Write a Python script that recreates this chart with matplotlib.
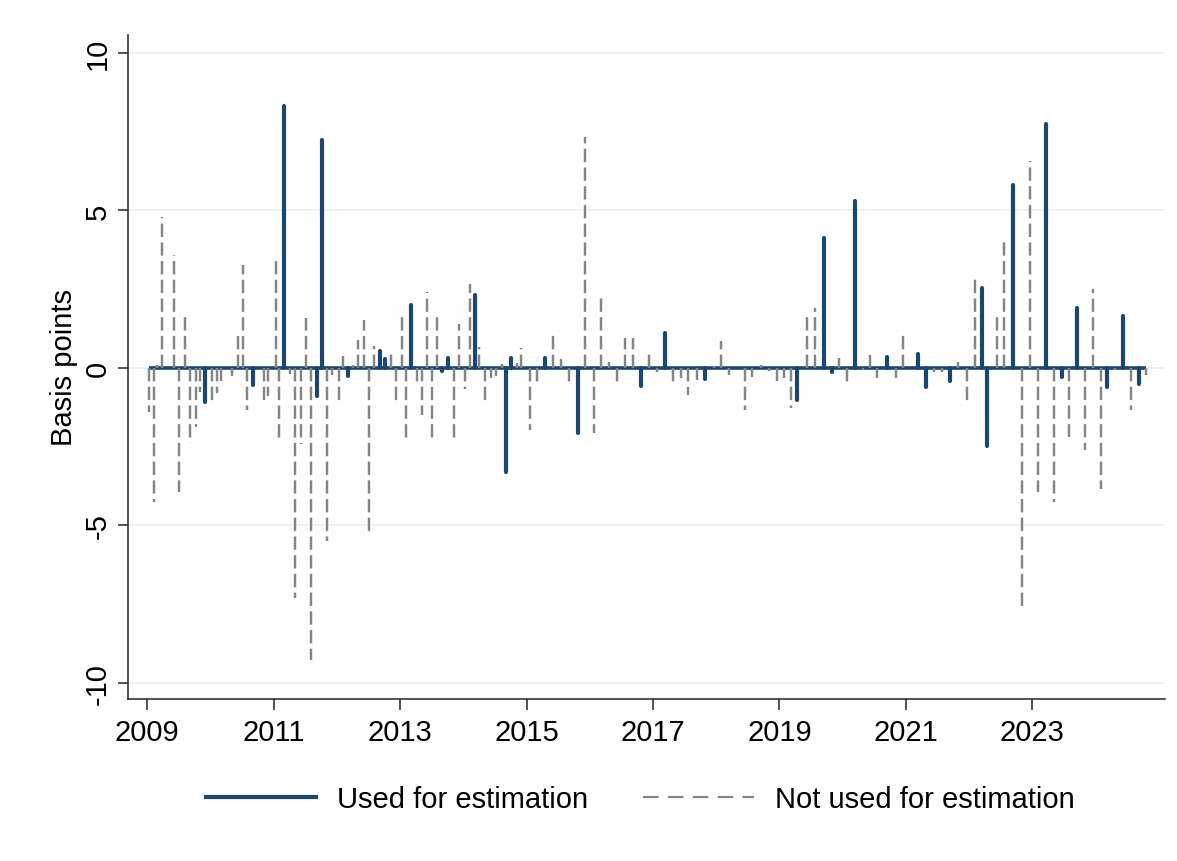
import matplotlib
import matplotlib.pyplot as plt
from matplotlib.lines import Line2D

matplotlib.use("Agg")

# event dates (decimal years) and surprises in basis points
used_dates = [
    2009.92, 2010.67, 2011.16, 2011.68, 2011.76, 2012.18, 2012.68, 2012.76,
    2013.18, 2013.67, 2013.75, 2014.18, 2014.68, 2014.75, 2015.29, 2015.81,
    2016.81, 2017.19, 2017.82, 2019.28, 2019.71, 2019.83, 2020.20, 2020.70,
    2021.20, 2021.32, 2021.70, 2022.20, 2022.29, 2022.70, 2023.22, 2023.47,
    2023.71, 2024.19, 2024.44, 2024.69,
]
used_bp = [
    -1.09, -0.54, 8.31, -0.88, 7.25, -0.26, 0.55, 0.29,
    2.01, -0.11, 0.31, 2.30, -3.31, 0.31, 0.31, -2.07,
    -0.58, 1.10, -0.35, -1.01, 4.12, -0.14, 5.31, 0.36,
    0.44, -0.59, -0.40, 2.54, -2.49, 5.82, 7.75, -0.30,
    1.90, -0.61, 1.64, -0.51,
]

notused_dates = [
    2009.03, 2009.10, 2009.16, 2009.24, 2009.42, 2009.50, 2009.60, 2009.67,
    2009.77, 2009.84, 2010.03, 2010.10, 2010.17, 2010.34, 2010.43, 2010.51,
    2010.58, 2010.84, 2010.91, 2011.03, 2011.08, 2011.26, 2011.33, 2011.43,
    2011.51, 2011.59, 2011.84, 2011.93, 2012.03, 2012.10, 2012.26, 2012.34,
    2012.43, 2012.50, 2012.58, 2012.86, 2012.93, 2013.03, 2013.10, 2013.26,
    2013.34, 2013.43, 2013.50, 2013.58, 2013.85, 2013.93, 2014.03, 2014.10,
    2014.25, 2014.35, 2014.43, 2014.51, 2014.61, 2014.85, 2014.92, 2015.06,
    2015.17, 2015.42, 2015.55, 2015.67, 2015.93, 2016.06, 2016.18, 2016.31,
    2016.43, 2016.55, 2016.69, 2016.94, 2017.06, 2017.32, 2017.44, 2017.56,
    2017.69, 2017.96, 2018.08, 2018.20, 2018.46, 2018.57, 2018.71, 2018.83,
    2018.96, 2019.08, 2019.18, 2019.43, 2019.57, 2019.95, 2020.07, 2020.33,
    2020.44, 2020.55, 2020.84, 2020.95, 2021.45, 2021.57, 2021.83, 2021.97,
    2022.10, 2022.44, 2022.56, 2022.83, 2022.96, 2023.09, 2023.35, 2023.58,
    2023.83, 2023.96, 2024.08, 2024.31, 2024.56, 2024.80,
]
notused_bp = [
    -1.39, -4.26, 0.10, 4.78, 3.59, -3.95, 1.66, -2.39,
    -1.88, -0.77, -1.07, -0.80, -0.43, -0.26, 1.00, 3.27,
    -1.35, -1.04, -0.90, 3.43, -2.28, -0.19, -7.29, -2.43,
    1.58, -9.27, -5.50, -0.22, -1.09, 0.37, 0.10, 0.90,
    1.53, -5.35, 0.69, 0.44, -1.09, 1.70, -2.29, -0.56,
    -1.48, 2.42, -2.25, 1.69, -2.33, 1.38, -0.67, 2.65,
    0.66, -1.14, -0.33, -0.26, 0.13, 0.15, 0.62, -1.96,
    -0.56, 1.06, 0.29, -0.58, 7.32, -2.07, 2.21, 0.20,
    -0.51, 0.94, 0.96, 0.52, -0.12, -0.51, -0.33, -0.85,
    -0.37, 0.07, 0.85, -0.22, -1.33, -0.30, 0.10, -0.10,
    -0.42, -0.32, -1.27, 1.61, 1.90, 0.31, -0.46, -0.08,
    0.41, -0.33, -0.33, 1.08, -0.14, -0.12, 0.18, -1.11,
    2.95, 1.63, 4.02, -7.57, 6.56, -3.95, -4.26, -2.18,
    -2.59, 2.51, -3.84, -0.08, -1.35, -0.22,
]

year_ticks = list(range(2009, 2025, 2))
bp_ticks = [-10, -5, 0, 5, 10]

NAVY = "#1a476f"
GRAY = "#858585"
GRID = "#eaf2f3"
FONT = ["Liberation Sans", "DejaVu Sans"]

plt.rcParams["font.family"] = FONT
plt.rcParams["font.size"] = 21

fig = plt.figure(figsize=(11.77, 8.62), dpi=100)
ax = fig.add_axes([128.3 / 1177, 1 - 700 / 862, (1165 - 128.3) / 1177, (700 - 36) / 862])

for y in bp_ticks:
    ax.axhline(y, color=GRID, lw=1.4, zorder=0)

all_dates = used_dates + notused_dates
ax.hlines(0, min(all_dates), max(all_dates), color=NAVY, lw=2.6, zorder=2)

gray = ax.vlines(notused_dates, 0, notused_bp, color=GRAY, lw=1.75,
                 linestyles=[(0, (5.5, 2.2))], zorder=3)
gray.set_capstyle("butt")
navy = ax.vlines(used_dates, 0, used_bp, color=NAVY, lw=3.0, zorder=4)
navy.set_capstyle("round")

ax.set_xlim(2008.70, 2025.10)
ax.set_ylim(-10.51, 10.57)
ax.set_xticks(year_ticks)
ax.set_xticklabels([str(y) for y in year_ticks])
ax.set_yticks(bp_ticks)
ax.set_yticklabels([str(y) for y in bp_ticks], rotation=90, va="center")
ax.set_ylabel("Basis points", labelpad=4)

for side in ["top", "right"]:
    ax.spines[side].set_visible(False)
for side in ["left", "bottom"]:
    ax.spines[side].set_color("#222222")
    ax.spines[side].set_linewidth(1.1)
ax.tick_params(axis="x", length=8, width=1.1, color="#222222", pad=6)
ax.tick_params(axis="y", length=7, width=1.1, color="#222222", pad=5)

handles = [
    Line2D([], [], color=NAVY, lw=3.0),
    Line2D([], [], color=GRAY, lw=1.6, dashes=(7, 4.2)),
]
fig.legend(handles, ["Used for estimation", "Not used for estimation"],
           loc="center", bbox_to_anchor=(640 / 1177, 1 - 800 / 862),
           ncol=2, frameon=False, handlelength=3.8, handletextpad=0.7,
           columnspacing=1.9)

fig.savefig("out.png", dpi=100)
plt.close(fig)
